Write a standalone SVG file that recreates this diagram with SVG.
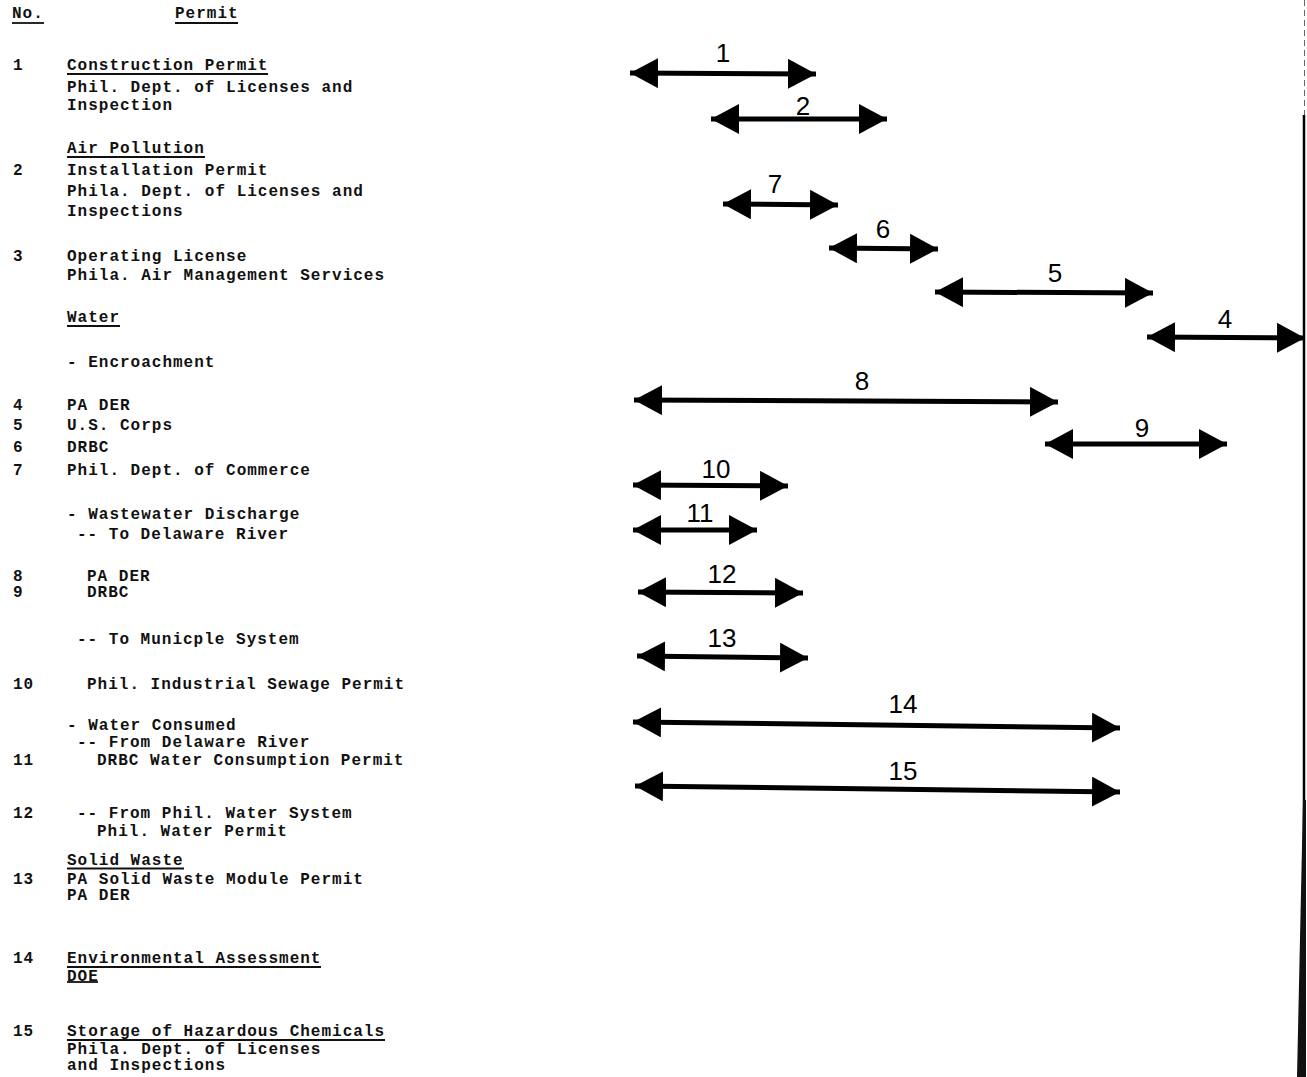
<svg xmlns="http://www.w3.org/2000/svg" width="1307" height="1077" viewBox="0 0 1307 1077">
<style>
.t{font-family:"Liberation Mono","DejaVu Sans Mono",monospace;font-size:16px;font-weight:bold;letter-spacing:1px;fill:#111}
.n{font-family:"Liberation Sans","DejaVu Sans",sans-serif;font-size:26px;fill:#000;text-anchor:middle}
.u{stroke:#111;stroke-width:1.8}
.bar{stroke:#000;stroke-width:5;fill:none;marker-start:url(#ah);marker-end:url(#ah)}
</style>
<defs>
<marker id="ah" markerUnits="userSpaceOnUse" viewBox="0 0 30 30" markerWidth="30" markerHeight="30" refX="28" refY="15" orient="auto-start-reverse">
<path d="M0,0 L28,15 L0,30 Z" fill="#000"/>
</marker>
</defs>
<rect width="1307" height="1077" fill="#fff"/>

<g id="header">
<text class="t" x="12" y="18">No.</text><line class="u" x1="12" y1="23" x2="44" y2="23"/>
<text class="t" x="175" y="18">Permit</text><line class="u" x1="175" y1="23" x2="238" y2="23"/>
</g>

<g id="permit-1">
<text class="t" x="13" y="70">1</text>
<text class="t" x="67" y="70">Construction Permit</text><line class="u" x1="67" y1="74" x2="268" y2="74"/>
<text class="t" x="67" y="92">Phil. Dept. of Licenses and</text>
<text class="t" x="67" y="110">Inspection</text>
</g>
<g id="permit-2">
<text class="t" x="67" y="153">Air Pollution</text><line class="u" x1="67" y1="157" x2="205" y2="157"/>
<text class="t" x="13" y="175">2</text>
<text class="t" x="67" y="175">Installation Permit</text>
<text class="t" x="67" y="196">Phila. Dept. of Licenses and</text>
<text class="t" x="67" y="216">Inspections</text>
</g>
<g id="permit-3">
<text class="t" x="13" y="261">3</text>
<text class="t" x="67" y="261">Operating License</text>
<text class="t" x="67" y="280">Phila. Air Management Services</text>
</g>
<g id="water">
<text class="t" x="67" y="322">Water</text><line class="u" x1="67" y1="326" x2="120" y2="326"/>
<text class="t" x="67" y="367">- Encroachment</text>
</g>
<g id="permit-4"><text class="t" x="13" y="410">4</text><text class="t" x="67" y="410">PA DER</text></g>
<g id="permit-5"><text class="t" x="13" y="430">5</text><text class="t" x="67" y="430">U.S. Corps</text></g>
<g id="permit-6"><text class="t" x="13" y="452">6</text><text class="t" x="67" y="452">DRBC</text></g>
<g id="permit-7"><text class="t" x="13" y="475">7</text><text class="t" x="67" y="475">Phil. Dept. of Commerce</text></g>
<g id="wastewater">
<text class="t" x="67" y="519">- Wastewater Discharge</text>
<text class="t" x="77" y="539">-- To Delaware River</text>
</g>
<g id="permit-8"><text class="t" x="13" y="581">8</text><text class="t" x="87" y="581">PA DER</text></g>
<g id="permit-9"><text class="t" x="13" y="597">9</text><text class="t" x="87" y="597">DRBC</text></g>
<g id="municipal"><text class="t" x="77" y="644">-- To Municple System</text></g>
<g id="permit-10"><text class="t" x="13" y="689">10</text><text class="t" x="87" y="689">Phil. Industrial Sewage Permit</text></g>
<g id="consumed">
<text class="t" x="67" y="730">- Water Consumed</text>
<text class="t" x="77" y="747">-- From Delaware River</text>
</g>
<g id="permit-11"><text class="t" x="13" y="765">11</text><text class="t" x="97" y="765">DRBC Water Consumption Permit</text></g>
<g id="permit-12">
<text class="t" x="13" y="818">12</text><text class="t" x="77" y="818">-- From Phil. Water System</text>
<text class="t" x="97" y="836">Phil. Water Permit</text>
</g>
<g id="permit-13">
<text class="t" x="67" y="865">Solid Waste</text><line class="u" x1="67" y1="868.5" x2="184" y2="868.5"/>
<text class="t" x="13" y="884">13</text><text class="t" x="67" y="884">PA Solid Waste Module Permit</text>
<text class="t" x="67" y="900">PA DER</text>
</g>
<g id="permit-14">
<text class="t" x="13" y="963">14</text>
<text class="t" x="67" y="963">Environmental Assessment</text><line class="u" x1="67" y1="967" x2="321" y2="967"/>
<text class="t" x="67" y="981">DOE</text><line class="u" x1="67" y1="982" x2="98" y2="982"/>
</g>
<g id="permit-15">
<text class="t" x="13" y="1036">15</text>
<text class="t" x="67" y="1036">Storage of Hazardous Chemicals</text><line class="u" x1="67" y1="1040" x2="385" y2="1040"/>
<text class="t" x="67" y="1054">Phila. Dept. of Licenses</text>
<text class="t" x="67" y="1070">and Inspections</text>
</g>

<g id="connectors">
<line class="bar" x1="630" y1="73" x2="816" y2="74"/>
<line class="bar" x1="711" y1="119" x2="887" y2="119"/>
<line class="bar" x1="723" y1="204" x2="838" y2="205"/>
<line class="bar" x1="829" y1="248" x2="938" y2="249"/>
<line class="bar" x1="935" y1="292" x2="1153" y2="293"/>
<line class="bar" x1="1147" y1="337" x2="1305" y2="338"/>
<line class="bar" x1="634" y1="400" x2="1058" y2="402"/>
<line class="bar" x1="1045" y1="444" x2="1227" y2="444"/>
<line class="bar" x1="633" y1="485" x2="788" y2="486"/>
<line class="bar" x1="633" y1="530" x2="757" y2="530"/>
<line class="bar" x1="638" y1="592" x2="803" y2="593"/>
<line class="bar" x1="637" y1="656" x2="808" y2="658"/>
<line class="bar" x1="633" y1="722" x2="1120" y2="728"/>
<line class="bar" x1="635" y1="786" x2="1120" y2="792"/>
</g>

<g id="bar-labels">
<text class="n" x="723" y="62">1</text>
<text class="n" x="803" y="115">2</text>
<text class="n" x="775" y="193">7</text>
<text class="n" x="883" y="238">6</text>
<text class="n" x="1055" y="282">5</text>
<text class="n" x="1225" y="328">4</text>
<text class="n" x="862" y="390">8</text>
<text class="n" x="1142" y="437">9</text>
<text class="n" x="716" y="478">10</text>
<text class="n" x="700" y="522">11</text>
<text class="n" x="722" y="583">12</text>
<text class="n" x="722" y="647">13</text>
<text class="n" x="903" y="713">14</text>
<text class="n" x="903" y="780">15</text>
</g>

<g id="edge">
<line x1="1304.5" y1="0" x2="1304.5" y2="115" stroke="#666" stroke-width="1" stroke-dasharray="6 4"/>
<line x1="1304" y1="115" x2="1304" y2="1077" stroke="#000" stroke-width="2.5"/>
<path d="M1303,800 L1297,1077 L1306,1077 L1306,800 Z" fill="#111"/>
</g>
</svg>
